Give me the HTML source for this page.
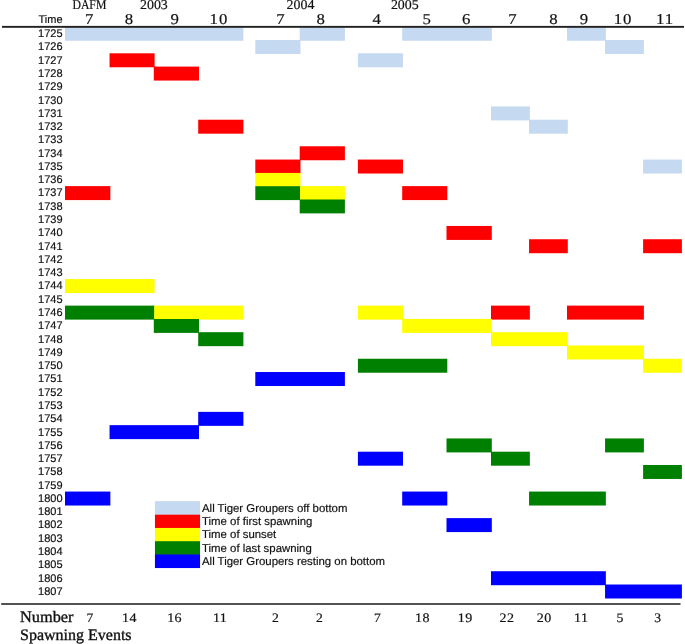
<!DOCTYPE html>
<html><head><meta charset="utf-8"><title>Spawning chart</title>
<style>
html,body{margin:0;padding:0;background:#fff;}
body{width:685px;height:644px;overflow:hidden;font-family:"Liberation Sans",sans-serif;}
svg{display:block;will-change:transform;}
text{fill:#111;text-rendering:geometricPrecision;stroke:#111;stroke-width:0.18px;}
</style></head><body>
<svg width="685" height="644" viewBox="0 0 685 644">
<rect x="0" y="0" width="685" height="644" fill="#ffffff"/>
<rect x="65.00" y="27.10" width="178.40" height="13.63" fill="#c5d9f1"/>
<rect x="299.70" y="27.10" width="45.20" height="13.63" fill="#c5d9f1"/>
<rect x="402.20" y="27.10" width="89.60" height="13.63" fill="#c5d9f1"/>
<rect x="567.00" y="27.10" width="38.85" height="13.63" fill="#c5d9f1"/>
<rect x="255.30" y="40.03" width="45.20" height="13.98" fill="#c5d9f1"/>
<rect x="605.05" y="40.03" width="38.85" height="13.98" fill="#c5d9f1"/>
<rect x="109.55" y="53.31" width="45.05" height="13.98" fill="#ff0000"/>
<rect x="357.90" y="53.31" width="45.10" height="13.98" fill="#c5d9f1"/>
<rect x="153.80" y="66.59" width="45.20" height="13.98" fill="#ff0000"/>
<rect x="491.00" y="106.43" width="38.85" height="13.98" fill="#c5d9f1"/>
<rect x="198.20" y="119.71" width="45.20" height="13.98" fill="#ff0000"/>
<rect x="529.05" y="119.71" width="38.75" height="13.98" fill="#c5d9f1"/>
<rect x="299.70" y="146.27" width="45.20" height="13.98" fill="#ff0000"/>
<rect x="255.30" y="159.55" width="45.20" height="13.98" fill="#ff0000"/>
<rect x="357.90" y="159.55" width="45.10" height="13.98" fill="#ff0000"/>
<rect x="643.10" y="159.55" width="38.80" height="13.98" fill="#c5d9f1"/>
<rect x="255.30" y="172.93" width="45.20" height="13.88" fill="#ffff00"/>
<rect x="65.00" y="186.11" width="45.35" height="13.98" fill="#ff0000"/>
<rect x="255.30" y="186.21" width="45.20" height="13.88" fill="#008000"/>
<rect x="300.10" y="186.11" width="44.80" height="13.98" fill="#ffff00"/>
<rect x="402.20" y="186.11" width="45.10" height="13.98" fill="#ff0000"/>
<rect x="299.70" y="199.49" width="45.20" height="13.88" fill="#008000"/>
<rect x="446.50" y="225.95" width="45.30" height="13.98" fill="#ff0000"/>
<rect x="529.05" y="239.23" width="38.75" height="13.98" fill="#ff0000"/>
<rect x="643.10" y="239.23" width="38.80" height="13.98" fill="#ff0000"/>
<rect x="65.00" y="279.07" width="89.60" height="13.98" fill="#ffff00"/>
<rect x="65.00" y="305.63" width="89.60" height="13.98" fill="#008000"/>
<rect x="154.20" y="305.63" width="89.20" height="13.98" fill="#ffff00"/>
<rect x="357.90" y="305.63" width="45.10" height="13.98" fill="#ffff00"/>
<rect x="491.00" y="305.63" width="38.85" height="13.98" fill="#ff0000"/>
<rect x="567.00" y="305.63" width="76.90" height="13.98" fill="#ff0000"/>
<rect x="153.80" y="319.01" width="45.20" height="13.88" fill="#008000"/>
<rect x="402.20" y="318.91" width="89.60" height="13.98" fill="#ffff00"/>
<rect x="198.20" y="332.19" width="45.20" height="13.98" fill="#008000"/>
<rect x="491.00" y="332.19" width="76.80" height="13.98" fill="#ffff00"/>
<rect x="567.00" y="345.47" width="76.90" height="13.98" fill="#ffff00"/>
<rect x="357.90" y="358.75" width="89.40" height="13.98" fill="#008000"/>
<rect x="643.10" y="358.75" width="38.80" height="13.98" fill="#ffff00"/>
<rect x="255.30" y="372.03" width="89.60" height="13.98" fill="#0000ff"/>
<rect x="198.20" y="411.87" width="45.20" height="13.98" fill="#0000ff"/>
<rect x="109.55" y="425.15" width="89.45" height="13.98" fill="#0000ff"/>
<rect x="446.50" y="438.43" width="45.30" height="13.98" fill="#008000"/>
<rect x="605.05" y="438.43" width="38.85" height="13.98" fill="#008000"/>
<rect x="357.90" y="451.71" width="45.10" height="13.98" fill="#0000ff"/>
<rect x="491.00" y="451.71" width="38.85" height="13.98" fill="#008000"/>
<rect x="643.10" y="464.99" width="38.80" height="13.98" fill="#008000"/>
<rect x="65.00" y="491.55" width="45.35" height="13.98" fill="#0000ff"/>
<rect x="402.20" y="491.55" width="45.10" height="13.98" fill="#0000ff"/>
<rect x="529.05" y="491.55" width="76.80" height="13.98" fill="#008000"/>
<rect x="446.50" y="518.11" width="45.30" height="13.98" fill="#0000ff"/>
<rect x="491.00" y="571.23" width="114.85" height="13.98" fill="#0000ff"/>
<rect x="605.05" y="584.51" width="76.85" height="13.98" fill="#0000ff"/>
<rect x="154.95" y="501.15" width="45.1" height="14.05" fill="#c5d9f1"/>
<rect x="154.95" y="514.70" width="45.1" height="13.75" fill="#ff0000"/>
<rect x="154.95" y="527.95" width="45.1" height="13.75" fill="#ffff00"/>
<rect x="154.95" y="541.20" width="45.1" height="13.75" fill="#008000"/>
<rect x="154.95" y="554.45" width="45.1" height="13.60" fill="#0000ff"/>
<rect x="2" y="25.9" width="682" height="1.9" fill="#222"/>
<rect x="1.2" y="603.2" width="679.3" height="1.6" fill="#2a2a2a"/>
<text transform="translate(62.6,37.12) scale(1,1)" text-anchor="end" style="font-family:'Liberation Sans',sans-serif;font-size:11px;">1725</text>
<text transform="translate(62.6,50.40) scale(1,1)" text-anchor="end" style="font-family:'Liberation Sans',sans-serif;font-size:11px;">1726</text>
<text transform="translate(62.6,63.68) scale(1,1)" text-anchor="end" style="font-family:'Liberation Sans',sans-serif;font-size:11px;">1727</text>
<text transform="translate(62.6,76.96) scale(1,1)" text-anchor="end" style="font-family:'Liberation Sans',sans-serif;font-size:11px;">1728</text>
<text transform="translate(62.6,90.24) scale(1,1)" text-anchor="end" style="font-family:'Liberation Sans',sans-serif;font-size:11px;">1729</text>
<text transform="translate(62.6,103.52) scale(1,1)" text-anchor="end" style="font-family:'Liberation Sans',sans-serif;font-size:11px;">1730</text>
<text transform="translate(62.6,116.80) scale(1,1)" text-anchor="end" style="font-family:'Liberation Sans',sans-serif;font-size:11px;">1731</text>
<text transform="translate(62.6,130.08) scale(1,1)" text-anchor="end" style="font-family:'Liberation Sans',sans-serif;font-size:11px;">1732</text>
<text transform="translate(62.6,143.36) scale(1,1)" text-anchor="end" style="font-family:'Liberation Sans',sans-serif;font-size:11px;">1733</text>
<text transform="translate(62.6,156.64) scale(1,1)" text-anchor="end" style="font-family:'Liberation Sans',sans-serif;font-size:11px;">1734</text>
<text transform="translate(62.6,169.92) scale(1,1)" text-anchor="end" style="font-family:'Liberation Sans',sans-serif;font-size:11px;">1735</text>
<text transform="translate(62.6,183.20) scale(1,1)" text-anchor="end" style="font-family:'Liberation Sans',sans-serif;font-size:11px;">1736</text>
<text transform="translate(62.6,196.48) scale(1,1)" text-anchor="end" style="font-family:'Liberation Sans',sans-serif;font-size:11px;">1737</text>
<text transform="translate(62.6,209.76) scale(1,1)" text-anchor="end" style="font-family:'Liberation Sans',sans-serif;font-size:11px;">1738</text>
<text transform="translate(62.6,223.04) scale(1,1)" text-anchor="end" style="font-family:'Liberation Sans',sans-serif;font-size:11px;">1739</text>
<text transform="translate(62.6,236.32) scale(1,1)" text-anchor="end" style="font-family:'Liberation Sans',sans-serif;font-size:11px;">1740</text>
<text transform="translate(62.6,249.60) scale(1,1)" text-anchor="end" style="font-family:'Liberation Sans',sans-serif;font-size:11px;">1741</text>
<text transform="translate(62.6,262.88) scale(1,1)" text-anchor="end" style="font-family:'Liberation Sans',sans-serif;font-size:11px;">1742</text>
<text transform="translate(62.6,276.16) scale(1,1)" text-anchor="end" style="font-family:'Liberation Sans',sans-serif;font-size:11px;">1743</text>
<text transform="translate(62.6,289.44) scale(1,1)" text-anchor="end" style="font-family:'Liberation Sans',sans-serif;font-size:11px;">1744</text>
<text transform="translate(62.6,302.72) scale(1,1)" text-anchor="end" style="font-family:'Liberation Sans',sans-serif;font-size:11px;">1745</text>
<text transform="translate(62.6,316.00) scale(1,1)" text-anchor="end" style="font-family:'Liberation Sans',sans-serif;font-size:11px;">1746</text>
<text transform="translate(62.6,329.28) scale(1,1)" text-anchor="end" style="font-family:'Liberation Sans',sans-serif;font-size:11px;">1747</text>
<text transform="translate(62.6,342.56) scale(1,1)" text-anchor="end" style="font-family:'Liberation Sans',sans-serif;font-size:11px;">1748</text>
<text transform="translate(62.6,355.84) scale(1,1)" text-anchor="end" style="font-family:'Liberation Sans',sans-serif;font-size:11px;">1749</text>
<text transform="translate(62.6,369.12) scale(1,1)" text-anchor="end" style="font-family:'Liberation Sans',sans-serif;font-size:11px;">1750</text>
<text transform="translate(62.6,382.40) scale(1,1)" text-anchor="end" style="font-family:'Liberation Sans',sans-serif;font-size:11px;">1751</text>
<text transform="translate(62.6,395.68) scale(1,1)" text-anchor="end" style="font-family:'Liberation Sans',sans-serif;font-size:11px;">1752</text>
<text transform="translate(62.6,408.96) scale(1,1)" text-anchor="end" style="font-family:'Liberation Sans',sans-serif;font-size:11px;">1753</text>
<text transform="translate(62.6,422.24) scale(1,1)" text-anchor="end" style="font-family:'Liberation Sans',sans-serif;font-size:11px;">1754</text>
<text transform="translate(62.6,435.52) scale(1,1)" text-anchor="end" style="font-family:'Liberation Sans',sans-serif;font-size:11px;">1755</text>
<text transform="translate(62.6,448.80) scale(1,1)" text-anchor="end" style="font-family:'Liberation Sans',sans-serif;font-size:11px;">1756</text>
<text transform="translate(62.6,462.08) scale(1,1)" text-anchor="end" style="font-family:'Liberation Sans',sans-serif;font-size:11px;">1757</text>
<text transform="translate(62.6,475.36) scale(1,1)" text-anchor="end" style="font-family:'Liberation Sans',sans-serif;font-size:11px;">1758</text>
<text transform="translate(62.6,488.64) scale(1,1)" text-anchor="end" style="font-family:'Liberation Sans',sans-serif;font-size:11px;">1759</text>
<text transform="translate(62.6,501.92) scale(1,1)" text-anchor="end" style="font-family:'Liberation Sans',sans-serif;font-size:11px;">1800</text>
<text transform="translate(62.6,515.20) scale(1,1)" text-anchor="end" style="font-family:'Liberation Sans',sans-serif;font-size:11px;">1801</text>
<text transform="translate(62.6,528.48) scale(1,1)" text-anchor="end" style="font-family:'Liberation Sans',sans-serif;font-size:11px;">1802</text>
<text transform="translate(62.6,541.76) scale(1,1)" text-anchor="end" style="font-family:'Liberation Sans',sans-serif;font-size:11px;">1803</text>
<text transform="translate(62.6,555.04) scale(1,1)" text-anchor="end" style="font-family:'Liberation Sans',sans-serif;font-size:11px;">1804</text>
<text transform="translate(62.6,568.32) scale(1,1)" text-anchor="end" style="font-family:'Liberation Sans',sans-serif;font-size:11px;">1805</text>
<text transform="translate(62.6,581.60) scale(1,1)" text-anchor="end" style="font-family:'Liberation Sans',sans-serif;font-size:11px;">1806</text>
<text transform="translate(62.6,594.88) scale(1,1)" text-anchor="end" style="font-family:'Liberation Sans',sans-serif;font-size:11px;">1807</text>
<text transform="translate(62.6,23) scale(1,1)" text-anchor="end" style="font-family:'Liberation Sans',sans-serif;font-size:11px;">Time</text>
<text transform="translate(72.4,9.4) scale(0.87,1)" text-anchor="start" style="font-family:'Liberation Serif',serif;font-size:13.5px;">DAFM</text>
<text transform="translate(153.9,9.4) scale(1.03,1)" text-anchor="middle" style="font-family:'Liberation Serif',serif;font-size:13.5px;">2003</text>
<text transform="translate(300.5,9.4) scale(1.03,1)" text-anchor="middle" style="font-family:'Liberation Serif',serif;font-size:13.5px;">2004</text>
<text transform="translate(404.8,9.4) scale(1.03,1)" text-anchor="middle" style="font-family:'Liberation Serif',serif;font-size:13.5px;">2005</text>
<text transform="translate(89.1,23.6) scale(1.12,1)" text-anchor="middle" style="font-family:'Liberation Serif',serif;font-size:15px;">7</text>
<text transform="translate(128.9,23.6) scale(1.12,1)" text-anchor="middle" style="font-family:'Liberation Serif',serif;font-size:15px;">8</text>
<text transform="translate(174.7,23.6) scale(1.12,1)" text-anchor="middle" style="font-family:'Liberation Serif',serif;font-size:15px;">9</text>
<text transform="translate(219.0,23.6) scale(1.12,1)" text-anchor="middle" style="font-family:'Liberation Serif',serif;font-size:15px;letter-spacing:0.9px;">10</text>
<text transform="translate(280.5,23.6) scale(1.12,1)" text-anchor="middle" style="font-family:'Liberation Serif',serif;font-size:15px;">7</text>
<text transform="translate(320.7,23.6) scale(1.12,1)" text-anchor="middle" style="font-family:'Liberation Serif',serif;font-size:15px;">8</text>
<text transform="translate(376.8,23.6) scale(1.12,1)" text-anchor="middle" style="font-family:'Liberation Serif',serif;font-size:15px;">4</text>
<text transform="translate(426.8,23.6) scale(1.12,1)" text-anchor="middle" style="font-family:'Liberation Serif',serif;font-size:15px;">5</text>
<text transform="translate(466.3,23.6) scale(1.12,1)" text-anchor="middle" style="font-family:'Liberation Serif',serif;font-size:15px;">6</text>
<text transform="translate(512.4,23.6) scale(1.12,1)" text-anchor="middle" style="font-family:'Liberation Serif',serif;font-size:15px;">7</text>
<text transform="translate(553.4,23.6) scale(1.12,1)" text-anchor="middle" style="font-family:'Liberation Serif',serif;font-size:15px;">8</text>
<text transform="translate(584.0,23.6) scale(1.12,1)" text-anchor="middle" style="font-family:'Liberation Serif',serif;font-size:15px;">9</text>
<text transform="translate(623.1,23.6) scale(1.12,1)" text-anchor="middle" style="font-family:'Liberation Serif',serif;font-size:15px;letter-spacing:0.9px;">10</text>
<text transform="translate(665.1,23.6) scale(1.12,1)" text-anchor="middle" style="font-family:'Liberation Serif',serif;font-size:15px;letter-spacing:0.9px;">11</text>
<text transform="translate(202.0,511.90) scale(1,1)" text-anchor="start" style="font-family:'Liberation Sans',sans-serif;font-size:11.4px;">All Tiger Groupers off bottom</text>
<text transform="translate(202.0,525.15) scale(1,1)" text-anchor="start" style="font-family:'Liberation Sans',sans-serif;font-size:11.4px;">Time of first spawning</text>
<text transform="translate(202.0,538.40) scale(1,1)" text-anchor="start" style="font-family:'Liberation Sans',sans-serif;font-size:11.4px;">Time of sunset</text>
<text transform="translate(202.0,551.65) scale(1,1)" text-anchor="start" style="font-family:'Liberation Sans',sans-serif;font-size:11.4px;">Time of last spawning</text>
<text transform="translate(202.0,564.90) scale(1,1)" text-anchor="start" style="font-family:'Liberation Sans',sans-serif;font-size:11.4px;">All Tiger Groupers resting on bottom</text>
<text transform="translate(90.0,621.6) scale(1.05,1)" text-anchor="middle" style="font-family:'Liberation Serif',serif;font-size:13px;">7</text>
<text transform="translate(129.4,621.6) scale(1.08,1)" text-anchor="middle" style="font-family:'Liberation Serif',serif;font-size:13px;letter-spacing:0.4px;">14</text>
<text transform="translate(174.60000000000002,621.6) scale(1.08,1)" text-anchor="middle" style="font-family:'Liberation Serif',serif;font-size:13px;letter-spacing:0.4px;">16</text>
<text transform="translate(220.10000000000002,621.6) scale(1.08,1)" text-anchor="middle" style="font-family:'Liberation Serif',serif;font-size:13px;letter-spacing:0.4px;">11</text>
<text transform="translate(275.4,621.6) scale(1.05,1)" text-anchor="middle" style="font-family:'Liberation Serif',serif;font-size:13px;">2</text>
<text transform="translate(319.4,621.6) scale(1.05,1)" text-anchor="middle" style="font-family:'Liberation Serif',serif;font-size:13px;">2</text>
<text transform="translate(377.3,621.6) scale(1.05,1)" text-anchor="middle" style="font-family:'Liberation Serif',serif;font-size:13px;">7</text>
<text transform="translate(422.40000000000003,621.6) scale(1.08,1)" text-anchor="middle" style="font-family:'Liberation Serif',serif;font-size:13px;letter-spacing:0.4px;">18</text>
<text transform="translate(465.3,621.6) scale(1.08,1)" text-anchor="middle" style="font-family:'Liberation Serif',serif;font-size:13px;letter-spacing:0.4px;">19</text>
<text transform="translate(507.05,621.6) scale(1.08,1)" text-anchor="middle" style="font-family:'Liberation Serif',serif;font-size:13px;letter-spacing:0.4px;">22</text>
<text transform="translate(544.3,621.6) scale(1.08,1)" text-anchor="middle" style="font-family:'Liberation Serif',serif;font-size:13px;letter-spacing:0.4px;">20</text>
<text transform="translate(581.1999999999999,621.6) scale(1.08,1)" text-anchor="middle" style="font-family:'Liberation Serif',serif;font-size:13px;letter-spacing:0.4px;">11</text>
<text transform="translate(619.8,621.6) scale(1.05,1)" text-anchor="middle" style="font-family:'Liberation Serif',serif;font-size:13px;">5</text>
<text transform="translate(657.7,621.6) scale(1.05,1)" text-anchor="middle" style="font-family:'Liberation Serif',serif;font-size:13px;">3</text>
<text transform="translate(20.0,621.7) scale(1.02,1)" text-anchor="start" style="font-family:'Liberation Serif',serif;font-size:16px;stroke-width:0.35px;">Number</text>
<text transform="translate(20.0,640.2) scale(1,1)" text-anchor="start" style="font-family:'Liberation Serif',serif;font-size:16px;stroke-width:0.35px;">Spawning Events</text>
</svg>
</body></html>
